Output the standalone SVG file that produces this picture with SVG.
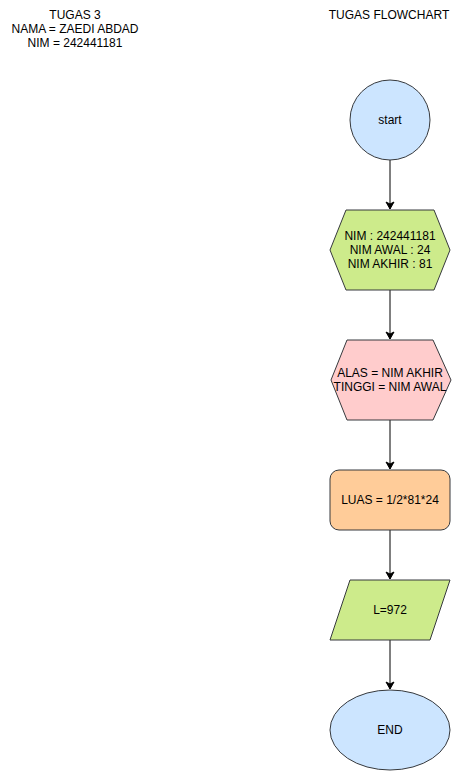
<svg xmlns="http://www.w3.org/2000/svg" width="460" height="771" viewBox="0 0 460 771">
<style>
text{font-family:"Liberation Sans",Arial,Helvetica,sans-serif;font-size:12px;fill:#000;text-anchor:middle;dominant-baseline:central}
.s{stroke:#36393d;stroke-width:1}
.e{stroke:#000;stroke-width:1;fill:none}
</style>
<defs>
<marker id="a" markerWidth="10" markerHeight="10" refX="8" refY="5" orient="auto" markerUnits="userSpaceOnUse">
<path d="M1,1 L8,5 L1,9 L3,5 Z" fill="#000" stroke="#000" stroke-width="1"/>
</marker>
</defs>
<g id="title-left">
<text x="75" y="15">TUGAS 3</text>
<text x="75" y="29">NAMA = ZAEDI ABDAD</text>
<text x="75" y="43">NIM = 242441181</text>
</g>
<g id="title-right">
<text x="389" y="15">TUGAS FLOWCHART</text>
</g>
<g id="connectors">
<line class="e" x1="390" y1="160" x2="390" y2="209" marker-end="url(#a)"/>
<line class="e" x1="390" y1="290" x2="390" y2="339" marker-end="url(#a)"/>
<line class="e" x1="390" y1="420" x2="390" y2="469" marker-end="url(#a)"/>
<line class="e" x1="390" y1="530" x2="390" y2="579" marker-end="url(#a)"/>
<line class="e" x1="390" y1="640" x2="390" y2="689" marker-end="url(#a)"/>
</g>
<g id="start">
<circle class="s" cx="390" cy="120" r="40" fill="#cce5ff"/>
<text x="390" y="120">start</text>
</g>
<g id="input">
<polygon class="s" points="346,210 434,210 450,250 434,290 346,290 330,250" fill="#cdeb8b"/>
<text x="390" y="236">NIM : 242441181</text>
<text x="390" y="250">NIM AWAL : 24</text>
<text x="390" y="264">NIM AKHIR : 81</text>
</g>
<g id="assign">
<polygon class="s" points="347,340 433,340 451,380 433,420 347,420 331,380" fill="#ffcccc"/>
<text x="390" y="373">ALAS = NIM AKHIR</text>
<text x="390" y="387">TINGGI = NIM AWAL</text>
</g>
<g id="process">
<rect class="s" x="330" y="470" width="120" height="60" rx="9" fill="#ffcc99"/>
<text x="390" y="500">LUAS = 1/2*81*24</text>
</g>
<g id="output">
<polygon class="s" points="350,580 450,580 430,640 330,640" fill="#cdeb8b"/>
<text x="390" y="610">L=972</text>
</g>
<g id="end">
<ellipse class="s" cx="390" cy="730" rx="60" ry="40" fill="#cce5ff"/>
<text x="390" y="730">END</text>
</g>
</svg>
